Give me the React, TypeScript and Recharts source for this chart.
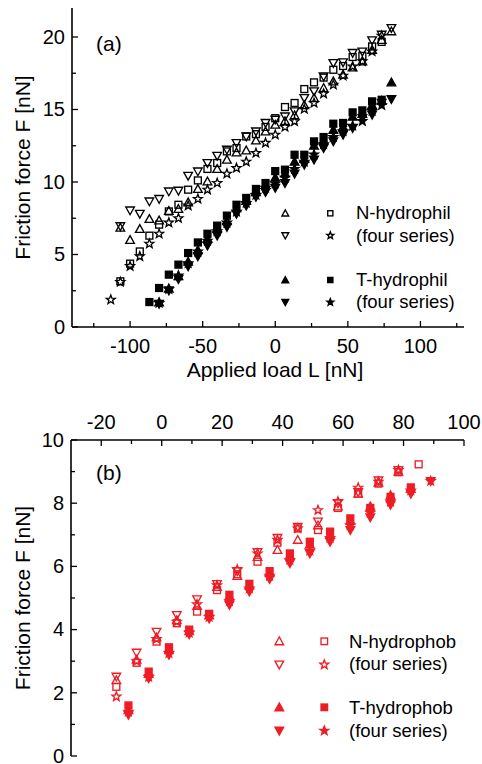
import React from 'react'
import { ScatterChart, Scatter, XAxis, YAxis, Legend } from 'recharts'

const FONT = '"Liberation Sans", Arial, Helvetica, sans-serif'
const BLACK = '#000000'
const RED = '#ee1d25'

// ---- panel (a): hydrophilic tips, load in nN
const loadA = [-113.3, -106.7, -100, -93.3, -86.7, -80, -73.3, -66.7, -60, -53.3, -46.7, -40, -33.3, -26.7, -20, -13.3, -6.7, 0, 6.7, 13.3, 20, 26.7, 33.3, 40, 46.7, 53.3, 60, 66.7, 73.3, 80]
const aNUp = [null, 6.85, 6.0, 6.76, 7.45, 7.35, 8.0, 8.14, 8.6, 9.52, 10.04, 10.9, 11.54, 12.04, 12.18, 12.87, 13.49, 13.95, 14.2, 14.6, 15.3, 15.79, 16.48, 16.94, 17.4, 17.9, 18.32, 19.12, 19.8, 20.39]
const aNDown = [null, 6.95, 8.04, 7.81, 8.66, 8.83, 9.35, 9.4, 10.43, 10.73, 11.31, 11.81, 12.23, 12.69, 13.14, 13.49, 14.07, 14.3, 14.52, 14.87, 15.79, 16.25, 17.28, 18.2, 18.25, 18.9, 19.0, 19.77, 20.16, 20.62]
const aNSquare = [null, 3.15, 4.37, 5.21, 6.3, 7.06, 7.97, 8.43, 9.47, 10.11, 10.9, 11.31, 12.11, 12.34, 13.14, 13.3, 13.8, 14.4, 15.17, 15.45, 16.41, 16.87, 17.2, 17.74, 18.0, 18.62, 18.7, 19.35, 19.66, null]
const aNStar = [1.88, 3.1, 4.2, 4.87, 5.74, 6.43, 7.2, 7.5, 8.37, 8.83, 9.47, 9.93, 10.57, 10.96, 11.4, 12.0, 12.7, 13.26, 13.79, 14.18, 15.03, 15.45, 16.09, 16.71, 17.33, 17.97, 18.32, 19.0, 20.09, null]
const aTUp = [null, null, null, null, null, 1.7, 2.65, 3.5, 4.5, 5.3, 6.1, 6.8, 7.3, 8.2, 8.7, 9.3, 9.8, 10.3, 10.6, 11.4, 11.6, 12.5, 12.9, 13.6, 13.8, 14.5, 14.7, 15.3, 15.6, 16.87]
const aTDown = [null, null, null, null, null, 1.6, 2.52, 3.31, 4.18, 4.87, 5.61, 6.3, 6.9, 7.81, 8.37, 8.97, 9.3, 9.6, 9.93, 10.57, 11.19, 11.54, 12.34, 12.8, 13.26, 13.72, 14.41, 14.64, 15.45, 15.72]
const aTSquare = [null, null, null, null, 1.72, 2.69, 3.61, 4.3, 5.1, 5.83, 6.43, 6.99, 7.68, 8.43, 8.9, 9.52, 9.93, 10.75, 10.85, 11.88, 11.88, 12.8, 13.1, 14.02, 14.07, 14.8, 14.94, 15.56, 15.67, null]
const aTStar = [null, null, null, null, null, 1.65, 2.6, 3.55, 4.4, 5.2, 5.95, 6.6, 7.2, 7.95, 8.55, 9.1, 9.6, 9.9, 10.3, 10.9, 11.4, 11.9, 12.6, 13.1, 13.5, 13.88, 14.2, 14.9, 15.3, null]

// ---- panel (b): hydrophobic tips
const loadBOpen = [-15, -8.3, -1.7, 5, 11.7, 18.3, 25, 31.7, 38.3, 45, 51.7, 58.3, 65, 71.7, 78.3, 85]
const bNUp = [2.4, 3.05, 3.75, 4.3, 4.75, 5.35, 5.7, 6.3, 6.52, 6.84, 7.3, 7.9, 8.3, 8.65, 9.0, null]
const bNDown = [2.51, 3.27, 3.93, 4.46, 4.96, 5.44, 5.85, 6.45, 6.9, 7.25, 7.42, 8.0, 8.35, 8.72, 9.05, null]
const bNSquare = [2.19, 2.95, 3.62, 4.2, 4.57, 5.25, 5.75, 6.15, 6.75, 7.2, 7.15, 7.85, 8.3, 8.62, 8.98, 9.23]
const bNStar = [1.88, 3.0, 3.7, 4.25, 4.8, 5.4, 5.9, 6.41, 6.84, 7.2, 7.78, 8.05, 8.49, 8.68, 9.05, null]
const loadBFilled = [-11, -4.3, 2.4, 9.1, 15.7, 22.4, 29, 35.7, 42.4, 49, 55.7, 62.4, 69, 75.7, 82.4, 89]
const bTUp = [1.45, 2.6, 3.35, 3.95, 4.45, 5.05, 5.4, 5.8, 6.35, 6.7, 7.0, 7.45, 7.9, 8.25, 8.45, null]
const bTDown = [1.3, 2.46, 3.2, 3.85, 4.35, 4.78, 5.2, 5.6, 6.1, 6.41, 6.78, 7.15, 7.55, 7.95, 8.3, 8.7]
const bTSquare = [1.6, 2.67, 3.44, 4.0, 4.5, 5.1, 5.45, 5.85, 6.41, 6.78, 7.1, 7.52, 7.85, 8.2, 8.5, null]
const bTStar = [1.4, 2.5, 3.25, 3.9, 4.4, 4.9, 5.3, 5.7, 6.2, 6.5, 6.9, 7.3, 7.7, 8.05, 8.4, 8.7]

// ticks and labels
const ticksAX = [-125, -100, -75, -50, -25, 0, 25, 50, 75, 100, 125]
const majorsAX = [-100, -50, 0, 50, 100]
const ticksAY = [0, 2.5, 5, 7.5, 10, 12.5, 15, 17.5, 20]
const majorsAY = [0, 5, 10, 15, 20]
const ticksBX = [-20, -10, 0, 10, 20, 30, 40, 50, 60, 70, 80, 90, 100]
const majorsBX = [-20, 0, 20, 40, 60, 80, 100]
const ticksBY = [0, 1, 2, 3, 4, 5, 6, 7, 8, 9, 10]
const majorsBY = [0, 2, 4, 6, 8, 10]

const legendA = ['N-hydrophil', '(four series)', 'T-hydrophil', '(four series)']
const legendB = ['N-hydrophob', '(four series)', 'T-hydrophob', '(four series)']

type Kind = 'up' | 'down' | 'square' | 'star'

const Marker = ({ cx, cy, kind, filled, color, r = 4.3 }: { cx?: number; cy?: number; kind: Kind; filled: boolean; color: string; r?: number }) => {
  if (cx == null || cy == null) return null
  const paint = { stroke: color, strokeWidth: 1.35, fill: filled ? color : 'none' }
  if (kind === 'up') return <polygon points={`${cx},${cy - r} ${cx - r},${cy + r * 0.8} ${cx + r},${cy + r * 0.8}`} {...paint} />
  if (kind === 'down') return <polygon points={`${cx},${cy + r} ${cx - r},${cy - r * 0.8} ${cx + r},${cy - r * 0.8}`} {...paint} />
  if (kind === 'square') {
    const h = r * 0.8
    return <rect x={cx - h} y={cy - h} width={2 * h} height={2 * h} {...paint} />
  }
  const pts: string[] = []
  for (let i = 0; i < 10; i++) {
    const a = -Math.PI / 2 + (i * Math.PI) / 5
    const rr = i % 2 === 0 ? r * 1.08 : r * 0.46
    pts.push(`${cx + rr * Math.cos(a)},${cy + rr * Math.sin(a)}`)
  }
  return <polygon points={pts.join(' ')} {...paint} strokeLinejoin="miter" />
}

type Series = { name: string; xs: number[]; ys: (number | null)[]; kind: Kind; filled: boolean }

const seriesA: Series[] = [
  { name: 'N-up', xs: loadA, ys: aNUp, kind: 'up', filled: false },
  { name: 'N-down', xs: loadA, ys: aNDown, kind: 'down', filled: false },
  { name: 'N-square', xs: loadA, ys: aNSquare, kind: 'square', filled: false },
  { name: 'N-star', xs: loadA, ys: aNStar, kind: 'star', filled: false },
  { name: 'T-up', xs: loadA, ys: aTUp, kind: 'up', filled: true },
  { name: 'T-down', xs: loadA, ys: aTDown, kind: 'down', filled: true },
  { name: 'T-square', xs: loadA, ys: aTSquare, kind: 'square', filled: true },
  { name: 'T-star', xs: loadA, ys: aTStar, kind: 'star', filled: true },
]

const seriesB: Series[] = [
  { name: 'N-up', xs: loadBOpen, ys: bNUp, kind: 'up', filled: false },
  { name: 'N-down', xs: loadBOpen, ys: bNDown, kind: 'down', filled: false },
  { name: 'N-square', xs: loadBOpen, ys: bNSquare, kind: 'square', filled: false },
  { name: 'N-star', xs: loadBOpen, ys: bNStar, kind: 'star', filled: false },
  { name: 'T-up', xs: loadBFilled, ys: bTUp, kind: 'up', filled: true },
  { name: 'T-down', xs: loadBFilled, ys: bTDown, kind: 'down', filled: true },
  { name: 'T-square', xs: loadBFilled, ys: bTSquare, kind: 'square', filled: true },
  { name: 'T-star', xs: loadBFilled, ys: bTStar, kind: 'star', filled: true },
]

const points = (s: Series) =>
  s.xs.map((x, i) => ({ x, y: s.ys[i] })).filter((p) => p.y != null)

const txt = { fontFamily: FONT, fill: BLACK }
const axisLine = { stroke: BLACK, strokeWidth: 1.6 }

// inward ticks; labels only on majors
const makeTick = (side: 'left' | 'right' | 'top' | 'bottom', majors: number[], withText: boolean) => (p: any) => {
  const v = p.payload.value
  const major = majors.includes(v)
  const len = major ? 6 : 4
  const show = withText && major
  if (side === 'bottom') {
    return (
      <g>
        <line x1={p.x} y1={p.y} x2={p.x} y2={p.y - len} stroke={BLACK} strokeWidth={1.3} />
        {show && <text x={p.x} y={p.y + 25.5} textAnchor="middle" fontSize={20} {...txt}>{v}</text>}
      </g>
    )
  }
  if (side === 'top') {
    return (
      <g>
        <line x1={p.x} y1={p.y} x2={p.x} y2={p.y + len} stroke={BLACK} strokeWidth={1.3} />
        {show && <text x={p.x} y={p.y - 11.5} textAnchor="middle" fontSize={20} {...txt}>{v}</text>}
      </g>
    )
  }
  if (side === 'left') {
    return (
      <g>
        <line x1={p.x} y1={p.y} x2={p.x + len} y2={p.y} stroke={BLACK} strokeWidth={1.3} />
        {show && <text x={p.x - 7} y={p.y + 6.8} textAnchor="end" fontSize={20} {...txt}>{v}</text>}
      </g>
    )
  }
  return <line x1={p.x} y1={p.y} x2={p.x - len} y2={p.y} stroke={BLACK} strokeWidth={1.3} />
}

const yTitle = (props: any) => {
  const vb = props.viewBox || { x: 0, y: 0, width: 0, height: 0 }
  const cy = vb.y + vb.height / 2
  return (
    <text x={30} y={cy} transform={`rotate(-90 30 ${cy})`} textAnchor="middle" fontSize={21} {...txt}>
      Friction force F [nN]
    </text>
  )
}

const xTitle = (props: any) => {
  const vb = props.viewBox || { x: 0, y: 0, width: 0, height: 0 }
  return (
    <text x={vb.x + 203} y={vb.y + 50} textAnchor="middle" fontSize={21} {...txt}>
      Applied load L [nN]
    </text>
  )
}

type Row = { y: number; base: number; left: Kind; right: Kind; filled: boolean; label: string }

const LegendBox = ({ h, color, panel, panelY, rows, lx, rx, tx, r }: { h: number; color: string; panel: string; panelY: number; rows: Row[]; lx: number; rx: number; tx: number; r: number }) => (
  <svg width={482} height={h} style={{ display: 'block', overflow: 'visible' }}>
    <text x={96} y={panelY} fontSize={21} {...txt}>{panel}</text>
    {rows.map((row, i) => (
      <g key={i}>
        <Marker cx={lx} cy={row.y} kind={row.left} filled={row.filled} color={color} r={r} />
        <Marker cx={rx} cy={row.y} kind={row.right} filled={row.filled} color={color} r={r * (row.right === 'square' ? 0.95 : 1)} />
        <text x={tx} y={row.base} fontSize={18.5} {...txt}>{row.label}</text>
      </g>
    ))}
  </svg>
)

const rowsA: Row[] = [
  { y: 213.3, base: 218.5, left: 'up', right: 'square', filled: false, label: legendA[0] },
  { y: 235.5, base: 241.5, left: 'down', right: 'star', filled: false, label: legendA[1] },
  { y: 280, base: 286, left: 'up', right: 'square', filled: true, label: legendA[2] },
  { y: 302.2, base: 308.3, left: 'down', right: 'star', filled: true, label: legendA[3] },
]

const rowsB: Row[] = [
  { y: 256.3, base: 263.3, left: 'up', right: 'square', filled: false, label: legendB[0] },
  { y: 279.6, base: 285.3, left: 'down', right: 'star', filled: false, label: legendB[1] },
  { y: 322.3, base: 329, left: 'up', right: 'square', filled: true, label: legendB[2] },
  { y: 345.7, base: 351.7, left: 'down', right: 'star', filled: true, label: legendB[3] },
]

const PanelA = () => (
  <ScatterChart width={482} height={385} margin={{ top: 8, right: 18, bottom: 0, left: 0 }}>
    <XAxis xAxisId="b" type="number" dataKey="x" orientation="bottom" domain={[-140, 130]} ticks={ticksAX} interval={0}
      allowDataOverflow height={58} tickSize={0} tickMargin={0} tickLine={false} axisLine={axisLine}
      tick={makeTick('bottom', majorsAX, true)} label={{ content: xTitle }} />
    <XAxis xAxisId="t" type="number" orientation="top" domain={[-140, 130]} ticks={ticksAX} interval={0}
      allowDataOverflow height={0} tickSize={0} tickMargin={0} tickLine={false} axisLine={axisLine}
      tick={makeTick('top', majorsAX, false)} />
    <YAxis yAxisId="l" type="number" dataKey="y" orientation="left" domain={[0, 22]} ticks={ticksAY} interval={0}
      allowDataOverflow width={72} tickSize={0} tickMargin={0} tickLine={false} axisLine={axisLine}
      tick={makeTick('left', majorsAY, true)} label={{ content: yTitle }} />
    <YAxis yAxisId="r" type="number" orientation="right" domain={[0, 22]} ticks={ticksAY} interval={0}
      allowDataOverflow width={0} tickSize={0} tickMargin={0} tickLine={false} axisLine={axisLine}
      tick={makeTick('right', majorsAY, false)} />
    {seriesA.map((s) => (
      <Scatter key={s.name} name={s.name} xAxisId="b" yAxisId="l" data={points(s)} isAnimationActive={false}
        shape={(p: any) => <Marker cx={p.cx} cy={p.cy} kind={s.kind} filled={s.filled} color={BLACK} />} />
    ))}
    <Legend layout="horizontal" verticalAlign="middle" align="center"
      wrapperStyle={{ position: 'absolute', left: 0, top: 0, width: 482, height: 385, pointerEvents: 'none' }}
      content={() => <LegendBox h={385} color={BLACK} panel="(a)" panelY={51} rows={rowsA} lx={285.3} rx={330.3} tx={356} r={3.4} />} />
  </ScatterChart>
)

const PanelB = () => (
  <ScatterChart width={482} height={379} margin={{ top: 0, right: 18, bottom: 8, left: 0 }}>
    <XAxis xAxisId="t" type="number" dataKey="x" orientation="top" domain={[-30, 100]} ticks={ticksBX} interval={0}
      allowDataOverflow height={55} tickSize={0} tickMargin={0} tickLine={false} axisLine={axisLine}
      tick={makeTick('top', majorsBX, true)} />
    <XAxis xAxisId="b" type="number" orientation="bottom" domain={[-30, 100]} ticks={ticksBX} interval={0}
      allowDataOverflow height={0} tickSize={0} tickMargin={0} tickLine={false} axisLine={axisLine}
      tick={makeTick('bottom', majorsBX, false)} />
    <YAxis yAxisId="l" type="number" dataKey="y" orientation="left" domain={[0, 10]} ticks={ticksBY} interval={0}
      allowDataOverflow width={71} tickSize={0} tickMargin={0} tickLine={false} axisLine={axisLine}
      tick={makeTick('left', majorsBY, true)} label={{ content: yTitle }} />
    <YAxis yAxisId="r" type="number" orientation="right" domain={[0, 10]} ticks={ticksBY} interval={0}
      allowDataOverflow width={0} tickSize={0} tickMargin={0} tickLine={false} axisLine={axisLine}
      tick={makeTick('right', majorsBY, false)} />
    {seriesB.map((s) => (
      <Scatter key={s.name} name={s.name} xAxisId="t" yAxisId="l" data={points(s)} isAnimationActive={false}
        shape={(p: any) => <Marker cx={p.cx} cy={p.cy} kind={s.kind} filled={s.filled} color={RED} />} />
    ))}
    <Legend layout="horizontal" verticalAlign="middle" align="center"
      wrapperStyle={{ position: 'absolute', left: 0, top: 0, width: 482, height: 379, pointerEvents: 'none' }}
      content={() => <LegendBox h={379} color={RED} panel="(b)" panelY={95} rows={rowsB} lx={279.3} rx={324.3} tx={349} r={4.3} />} />
  </ScatterChart>
)

export default function App() {
  return (
    <div style={{ position: 'absolute', left: 0, top: 0, width: 482, height: 764, background: '#fff' }}>
      <PanelA />
      <PanelB />
    </div>
  )
}
